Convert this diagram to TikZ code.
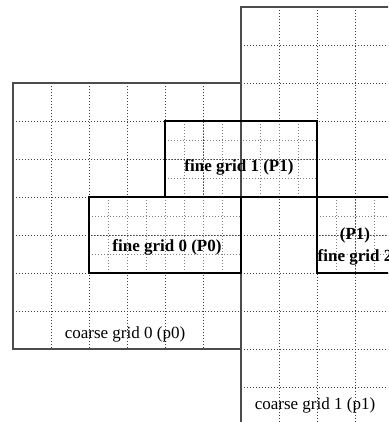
\documentclass[tikz,border=0pt]{standalone}
\usepackage{fontspec}
\setmainfont{Liberation Serif}
\begin{document}
\begin{tikzpicture}[x=1pt,y=-1pt,
  coarsedot/.style={draw=black!75,line width=0.8pt,dash pattern=on 1pt off 2pt},
  finedot/.style={draw=black!50,line width=0.8pt,dash pattern=on 1pt off 2pt},
  coarseedge/.style={draw=black!70,line width=1.2pt},
  fineedge/.style={draw=black,line width=2.8pt},
  boldlbl/.style={font=\fontsize{17}{22}\selectfont\bfseries,align=center,inner sep=0pt},
  lbl/.style={font=\fontsize{17}{22}\selectfont,inner sep=0pt}]
\useasboundingbox (0,0) rectangle (388,422);
\clip (0,0) rectangle (388,422);
% coarse grid 0 dotted
\foreach \x in {51,89,127,165,203} \draw[coarsedot] (\x,83) -- (\x,349);
\foreach \y in {121,159,197,235,273,311} \draw[coarsedot] (13,\y) -- (241,\y);
% coarse grid 1 dotted
\foreach \x in {279,317,355,393} \draw[coarsedot] (\x,7) -- (\x,470);
\foreach \y in {45,83,121,159,197,235,273,311,349,387} \draw[coarsedot] (241,\y) -- (480,\y);
% fine grid dotted
\foreach \x in {184,203,222,241,260,279,298} \draw[finedot] (\x,121) -- (\x,197);
\foreach \y in {140,159,178} \draw[finedot] (165,\y) -- (317,\y);
\foreach \x in {108,127,146,165,184,203,222} \draw[finedot] (\x,197) -- (\x,273);
\foreach \y in {216,235,254} \draw[finedot] (89,\y) -- (241,\y);
\foreach \x in {336,355,374} \draw[finedot] (\x,197) -- (\x,273);
\foreach \y in {216,235,254} \draw[finedot] (317,\y) -- (480,\y);
% coarse borders
\coordinate (c0a) at (13,83); \coordinate (c0b) at (241,349);
\draw[coarseedge] (c0a) rectangle (c0b);
\coordinate (c1a) at (241,7); \coordinate (c1b) at (480,470);
\draw[coarseedge] (c1a) rectangle (c1b);
% fine borders
\coordinate (f1a) at (165,121); \coordinate (f1b) at (317,197);
\coordinate (f0a) at (89,197); \coordinate (f0b) at (241,273);
\coordinate (f2a) at (317,197); \coordinate (f2b) at (480,273);
\draw[fineedge] (f1a) rectangle (f1b);
\draw[fineedge] (f0a) rectangle (f0b);
\draw[fineedge] (f2a) rectangle (f2b);
% labels
\node[boldlbl] (l1) at (239,167) {fine grid 1 (P1)};
\node[boldlbl] (l0) at (167,247) {fine grid 0 (P0)};
\node[boldlbl] (l2) at (355,246) {(P1)\\fine grid 2};
\node[lbl] (lc0) at (125,334) {coarse grid 0 (p0)};
\node[lbl] (lc1) at (315,405) {coarse grid 1 (p1)};
\end{tikzpicture}
\end{document}
